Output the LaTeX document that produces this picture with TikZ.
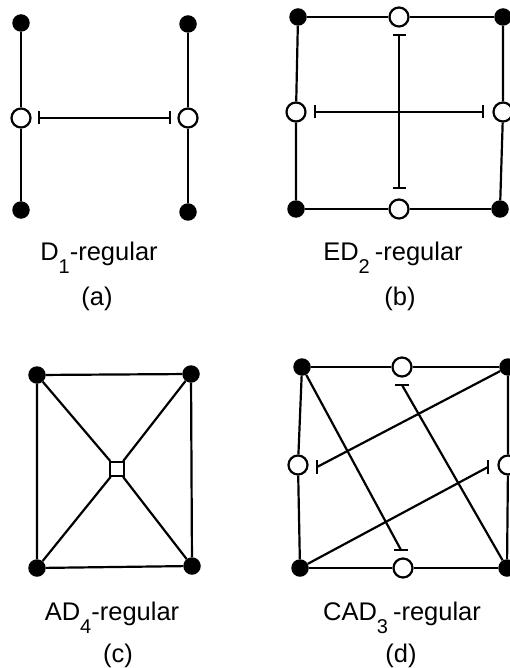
\documentclass[tikz,border=0pt]{standalone}
\usepackage{fontspec}
\setmainfont{Liberation Sans}
\usetikzlibrary{arrows.meta}
\newcommand{\lowsub}[1]{\raisebox{-13pt}{\fontsize{20}{20}\selectfont #1}}

\begin{document}
\begin{tikzpicture}[x=1pt,y=-1pt,
  dot/.style={circle,fill=black,inner sep=0pt,minimum size=17.5pt},
  hollow/.style={circle,draw=black,fill=white,line width=2.2pt,inner sep=0pt,minimum size=19pt},
  hub/.style={rectangle,draw=black,fill=white,line width=1.8pt,inner sep=0pt,minimum size=14pt},
  edge/.style={line width=2.2pt},
  barline/.style={line width=2.2pt,{Bar[width=13pt]}-{Bar[width=13pt]}},
  lbl/.style={anchor=base,font=\fontsize{25.5}{30}\selectfont,inner sep=0pt},
]
\useasboundingbox (0,0) rectangle (510,668);
\clip (0,0) rectangle (510,668);

% (a)
\node[dot] (a1) at (21,23) {};
\node[hollow] (a2) at (21,118) {};
\node[dot] (a3) at (21,210) {};
\node[dot] (a4) at (188,24) {};
\node[hollow] (a5) at (188,118) {};
\node[dot] (a6) at (188,212) {};
\draw[edge] (a1) -- (a2) -- (a3);
\draw[edge] (a4) -- (a5) -- (a6);
\draw[barline,shorten <=6pt,shorten >=6pt] (a2) -- (a5);

% (b)
\node[dot] (b1) at (298,17) {};
\node[hollow] (b2) at (399,17) {};
\node[dot] (b3) at (503,17) {};
\node[hollow] (b4) at (296,112) {};
\node[hollow] (b5) at (503,112) {};
\node[dot] (b6) at (296,209) {};
\node[hollow] (b7) at (399,209) {};
\node[dot] (b8) at (500,209) {};
\draw[edge] (b1) -- (b2) -- (b3);
\draw[edge] (b1) -- (b4) -- (b6);
\draw[edge] (b6) -- (b7) -- (b8);
\draw[edge] (b3) -- (b5) -- (b8);
\draw[barline,shorten <=6pt,shorten >=9pt] (b2) -- (b7);
\draw[barline,shorten <=7pt,shorten >=8pt] (b4) -- (b5);

% (c)
\node[dot] (c1) at (37,375) {};
\node[dot] (c2) at (191,374) {};
\node[dot] (c3) at (37,568) {};
\node[dot] (c4) at (192,566) {};
\node[hub] (c5) at (117,469) {};
\draw[edge] (c1) -- (c2) -- (c4) -- (c3) -- (c1);
\draw[edge] (c1) -- (c5);
\draw[edge] (c2) -- (c5);
\draw[edge] (c3) -- (c5);
\draw[edge] (c4) -- (c5);

% (d)
\node[dot] (d1) at (302,367) {};
\node[hollow] (d2) at (402,367) {};
\node[dot] (d3) at (508,367) {};
\node[hollow] (d4) at (298,465) {};
\node[hollow] (d5) at (508,465) {};
\node[dot] (d6) at (300,568) {};
\node[hollow] (d7) at (403,568) {};
\node[dot] (d8) at (507,568) {};
\coordinate (e1) at (401,550);
\coordinate (e2) at (402,385);
\coordinate (e3) at (317,467);
\coordinate (e4) at (488,467);
\draw[edge] (d1) -- (d2) -- (d3);
\draw[edge] (d1) -- (d4) -- (d6);
\draw[edge] (d6) -- (d7) -- (d8);
\draw[edge] (d3) -- (d5) -- (d8);
\draw[edge] (d1) -- (e1);
\draw[edge] (d8) -- (e2);
\draw[edge] (d3) -- (e3);
\draw[edge] (d6) -- (e4);
\draw[edge] ([xshift=-7pt]e1) -- ([xshift=7pt]e1);
\draw[edge] ([xshift=-7pt]e2) -- ([xshift=7pt]e2);
\draw[edge] ([yshift=-7pt]e3) -- ([yshift=7pt]e3);
\draw[edge] ([yshift=-7pt]e4) -- ([yshift=7pt]e4);

% labels
\node[lbl] (la) at (99,260) {D\lowsub{1}-regular};
\node[lbl] (pa) at (97,305) {(a)};
\node[lbl] (lb) at (393,260) {ED\lowsub{2}\hspace{5pt}-regular};
\node[lbl] (pb) at (400,305) {(b)};
\node[lbl] (lc) at (112,620) {AD\lowsub{4}-regular};
\node[lbl] (pc) at (118,662) {(c)};
\node[lbl] (ld) at (402,620) {CAD\lowsub{3}\hspace{5pt}-regular};
\node[lbl] (pd) at (401,662) {(d)};
\end{tikzpicture}
\end{document}
